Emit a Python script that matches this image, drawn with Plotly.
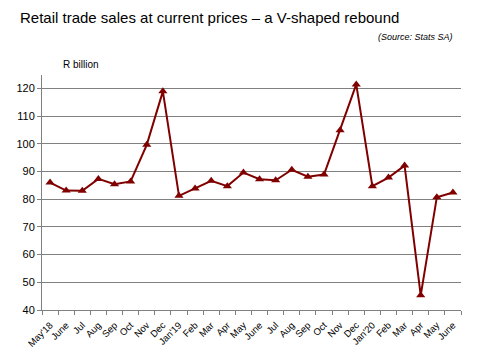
import plotly.graph_objects as go

months = ["May'18", "June", "Jul", "Aug", "Sep", "Oct", "Nov", "Dec",
          "Jan'19", "Feb", "Mar", "Apr", "May", "June", "Jul", "Aug", "Sep",
          "Oct", "Nov", "Dec", "Jan'20", "Feb", "Mar", "Apr", "May", "June"]
sales = [86.0, 83.1, 83.0, 87.3, 85.4, 86.4, 99.6, 118.9,
         81.2, 83.8, 86.6, 84.7, 89.6, 87.2, 86.8, 90.6, 88.1,
         88.9, 104.9, 121.4, 84.7, 87.8, 92.1, 45.3, 80.7, 82.4]
y_ticks = [40, 50, 60, 70, 80, 90, 100, 110, 120]

x = list(range(len(months)))
color = "#800000"

# page body has an 8px margin; compensate so the window layout matches
OFF = 8
W, H = 480 - OFF, 360 - OFF
ML, MR, MT, MB = 42 - OFF, 19, 75 - OFF, 50
PW, PH = W - ML - MR, H - MT - MB


def ann(text, px, py, size, anchor="left"):
    px -= OFF
    py -= OFF
    return dict(text=text, x=(px - ML) / PW, y=(H - MB - py) / PH,
                xref="paper", yref="paper", showarrow=False,
                xanchor=anchor, yanchor="middle", font=dict(size=size))


fig = go.Figure(go.Scatter(
    x=x, y=sales, mode="lines+markers",
    line=dict(color=color, width=2),
    marker=dict(symbol="triangle-up", size=8, color=color),
    hoverinfo="skip",
))

fig.update_layout(
    width=W, height=H,
    margin=dict(l=ML, r=MR, t=MT, b=MB, autoexpand=False),
    paper_bgcolor="white", plot_bgcolor="white",
    font=dict(family="Liberation Sans, Arial", color="#000000"),
    showlegend=False,
    annotations=[
        ann("Retail trade sales at current prices – a V-shaped rebound", 18, 17, 15),
        ann("<i>(Source: Stats SA)</i>", 455, 37, 9, "right"),
        ann("R billion", 61, 64, 10),
    ],
)

fig.update_xaxes(
    range=[-0.5, len(months) - 0.5],
    tickvals=x, ticktext=months, tickangle=-45,
    tickfont=dict(size=9.5, color="#000000"),
    ticks="", showgrid=False, automargin=False, ticklabelstandoff=5,
    showline=True, linecolor="#808080", linewidth=1,
    minor=dict(tickvals=[i - 0.5 for i in range(len(months) + 1)],
               ticks="outside", ticklen=4, tickcolor="#808080", showgrid=False),
    zeroline=False,
)
fig.update_yaxes(
    range=[40, 124.8], tickvals=y_ticks,
    tickfont=dict(size=11, color="#000000"),
    ticks="outside", ticklen=4, tickcolor="#808080", automargin=False,
    showgrid=True, gridcolor="#808080", gridwidth=1,
    showline=True, linecolor="#808080", linewidth=1,
    zeroline=False,
)

fig.write_html("out.html")
